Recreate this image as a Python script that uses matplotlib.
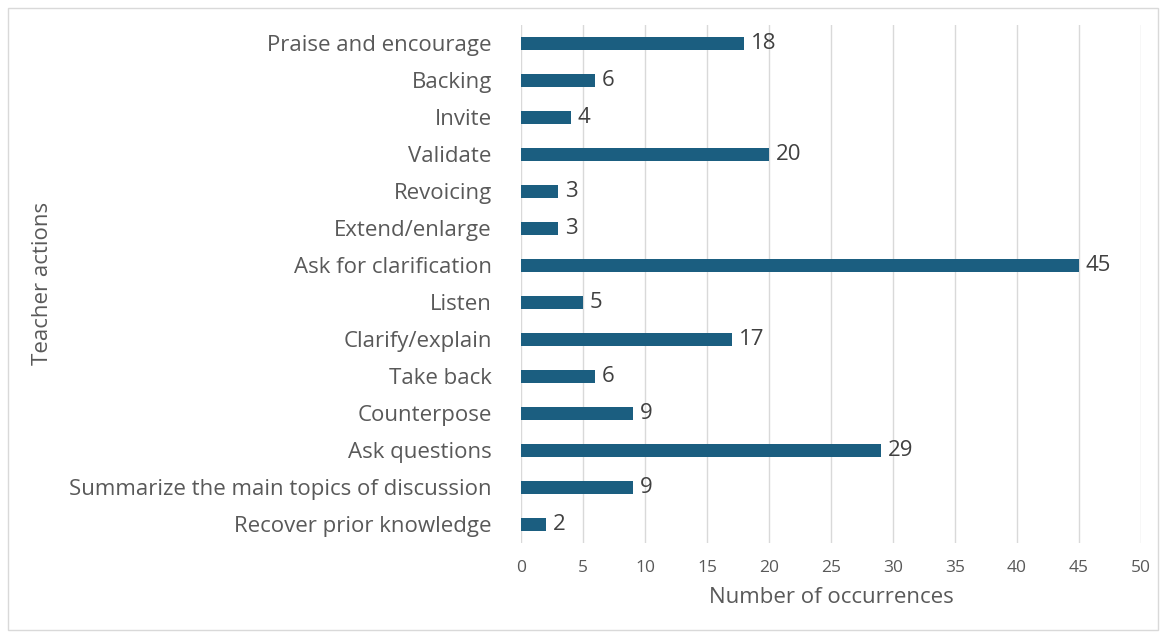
import matplotlib.pyplot as plt
from matplotlib.patches import Rectangle

categories = ["Praise and encourage", "Backing", "Invite", "Validate", "Revoicing",
              "Extend/enlarge", "Ask for clarification", "Listen", "Clarify/explain",
              "Take back", "Counterpose", "Ask questions",
              "Summarize the main topics of discussion", "Recover prior knowledge"]
counts = [18, 6, 4, 20, 3, 3, 45, 5, 17, 6, 9, 29, 9, 2]
xticks = list(range(0, 55, 5))

plt.rcParams['font.family'] = ['Open Sans', 'DejaVu Sans']

fig = plt.figure(figsize=(11.61, 6.32), dpi=100)
ax = fig.add_axes([0.4487, 0.1408, 0.5341, 0.8204])

pos = list(range(len(categories)))
bars = ax.barh(pos, counts, height=0.35, color='#1b5e80', zorder=3)
for y, v in zip(pos, counts):
    ax.text(v + 0.55, y, str(v), va='center', ha='left', fontsize=16, color='#404040')

ax.set_ylim(len(categories) - 0.5, -0.5)
ax.set_xlim(0, 50)
ax.set_yticks(pos)
ax.set_yticklabels(categories, fontsize=16, color='#595959')
ax.set_xticks(xticks)
ax.set_xticklabels([str(t) for t in xticks], fontsize=12.5, color='#595959')
ax.tick_params(axis='both', length=0)
ax.tick_params(axis='y', pad=21)
ax.tick_params(axis='x', pad=12)
ax.grid(axis='x', color='#d9d9d9', linewidth=1, zorder=0)
for s in ax.spines.values():
    s.set_visible(False)

ax.set_xlabel("Number of occurrences", fontsize=16, color='#595959', labelpad=8)
fig.text(0.037, 0.552, "Teacher actions", rotation=90, va='center', ha='center',
         fontsize=16, color='#595959')

fig.patches.append(Rectangle((8 / 1161, 2 / 632), 1150 / 1161, 622 / 632,
                             transform=fig.transFigure, fill=False,
                             edgecolor='#d9d9d9', linewidth=1))

fig.savefig("out.png", dpi=100)
